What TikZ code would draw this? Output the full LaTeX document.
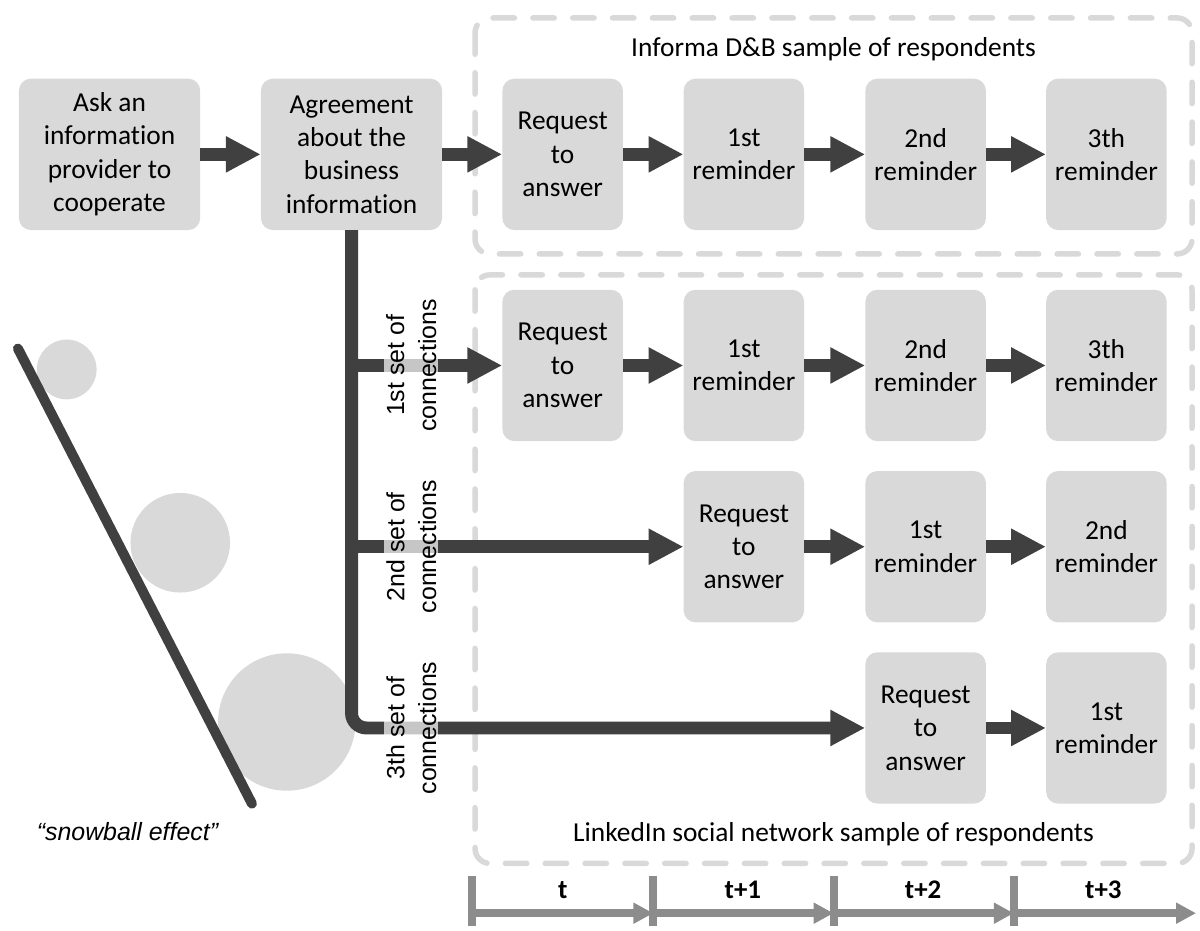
\documentclass[tikz,border=0pt]{standalone}
\usepackage{fontspec}
\setmainfont{Carlito}[Ligatures=NoCommon]
\newfontfamily\arialfont{Liberation Sans}
\usetikzlibrary{arrows.meta}

\definecolor{boxgray}{HTML}{D9D9D9}
\definecolor{arrowgray}{HTML}{404040}
\definecolor{axisgray}{HTML}{8C8C8C}

\newcommand\boxfont{\fontsize{27.5}{33.5}\selectfont}
\newcommand\setfont{\arialfont\fontsize{25}{32}\selectfont}

\tikzset{
  stage/.style={rectangle, rounded corners=12pt, fill=boxgray, inner sep=0pt,
    minimum width=121pt, minimum height=152pt, align=center, font=\boxfont},
  flow/.style={draw=arrowgray, line width=13pt, -{Triangle[width=34pt,length=35pt]}},
  frame/.style={draw=boxgray, line width=5.5pt, line cap=round,
    dash pattern=on 21.5pt off 18.5pt, rounded corners=15pt},
  setlabel/.style={rotate=90, align=center, font=\setfont, inner sep=2pt,
    fill=white, fill opacity=0.7, text opacity=1},
  period/.style={draw=axisgray, line width=8pt, -{Triangle[width=20pt,length=20pt]}},
  tick/.style={draw=axisgray, line width=8pt},
}

\begin{document}
\begin{tikzpicture}[x=1pt, y=-1pt]
  % ════ 两个样本的虚线框 ════
  \draw[frame] (477,18)  rectangle (1197,255);
  \draw[frame] (477,276) rectangle (1197,867);
  \node[font=\boxfont] (informa) at (837,49)  {Informa D\&B sample of respondents};
  \node[font=\boxfont] (linkedin) at (837,838) {LinkedIn social network sample of respondents};

  % ════ 雪球：三个球 + 斜坡 ════
  \fill[boxgray] (67,371)  circle[radius=30];
  \fill[boxgray] (181,545) circle[radius=50];
  \fill[boxgray] (288,725) circle[radius=69];
  \draw[arrowgray, line width=10pt, line cap=round] (18,350) -- (253,807);
  \node[font=\arialfont\itshape\fontsize{25}{30}\selectfont] (snow) at (128,835) {“snowball effect”};

  % ════ 步骤框 ════
  \node[stage, minimum width=182pt] (ask)   at (110,155) {Ask an\\information\\provider to\\cooperate};
  \node[stage, minimum width=182pt] (agree) at (353,155) {Agreement\\about the\\business\\information};

  % 第一行：Informa
  \node[stage] (req1) at (565,155)    {Request\\to\\answer};
  \node[stage] (rem11) at (747,155)   {1st\\reminder};
  \node[stage] (rem12) at (929.5,155) {2nd\\reminder};
  \node[stage] (rem13) at (1111,155)  {3th\\reminder};

  % 第二行：1st set
  \node[stage] (req2) at (565,367)    {Request\\to\\answer};
  \node[stage] (rem21) at (747,367)   {1st\\reminder};
  \node[stage] (rem22) at (929.5,367) {2nd\\reminder};
  \node[stage] (rem23) at (1111,367)  {3th\\reminder};

  % 第三行：2nd set
  \node[stage] (req3) at (747,549)    {Request\\to\\answer};
  \node[stage] (rem31) at (929.5,549) {1st\\reminder};
  \node[stage] (rem32) at (1111,549)  {2nd\\reminder};

  % 第四行：3th set
  \node[stage] (req4) at (929.5,731)  {Request\\to\\answer};
  \node[stage] (rem41) at (1111,731)  {1st\\reminder};

  % ════ 箭头 ════
  \draw[flow] (ask) -- (agree);
  \draw[flow] (agree) -- (req1);
  \draw[flow] (req1) -- (rem11);
  \draw[flow] (rem11) -- (rem12);
  \draw[flow] (rem12) -- (rem13);

  \draw[flow, rounded corners=15pt] (agree.south) -- (agree.south |- req4.west) -- (req4.west);
  \draw[flow] (agree.south |- req2.west) -- (req2.west);
  \draw[flow] (agree.south |- req3.west) -- (req3.west);

  \draw[flow] (req2) -- (rem21);
  \draw[flow] (rem21) -- (rem22);
  \draw[flow] (rem22) -- (rem23);
  \draw[flow] (req3) -- (rem31);
  \draw[flow] (rem31) -- (rem32);
  \draw[flow] (req4) -- (rem41);

  % 竖排标签压在分支线上（半透明白底）
  \node[setlabel] (set1) at (413,367) {1st set of\\connections};
  \node[setlabel] (set2) at (413,549) {2nd set of\\connections};
  \node[setlabel] (set3) at (413,731) {3th set of\\connections};

  % ════ 时间轴 ════
  \foreach \i/\x in {0/474,1/656,2/837,3/1018}{
    \coordinate (top\i) at (\x,880);
    \coordinate (t\i) at (\x,917);
    \draw[tick] (top\i) -- (\x,930);
  }
  \coordinate (t4) at (1201,917);
  \draw[period] (t0) -- (t1);
  \draw[period] (t1) -- (t2);
  \draw[period] (t2) -- (t3);
  \draw[period] (t3) -- (t4);
  \foreach \i/\x/\lab in {0/565/t,1/746/t+1,2/927/t+2,3/1108/t+3}
    \node[anchor=base, font=\bfseries\fontsize{27}{30}\selectfont] (lab\i) at (\x,902) {\lab};

  \path[use as bounding box] (0,0) rectangle (1200,926);
\end{tikzpicture}
\end{document}
